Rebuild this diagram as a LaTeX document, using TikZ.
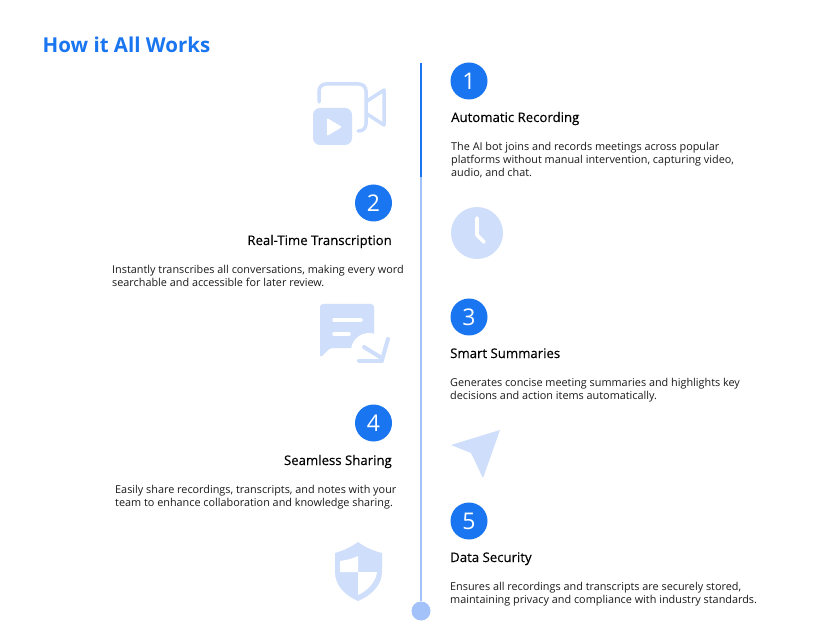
\documentclass[tikz,border=0pt]{standalone}
\usepackage{fontspec}
\setmainfont{Open Sans}
\newfontfamily\headfont[FakeBold=0.25]{Open Sans}
\definecolor{brand}{HTML}{1A75F0}
\definecolor{lineblue}{HTML}{A3C2FA}
\definecolor{iconblue}{HTML}{CFDEFA}
\definecolor{ink}{HTML}{1A1A1A}
\tikzset{
 numdot/.style={circle,fill=brand,draw=none,minimum size=37pt,inner sep=0pt,text=white,font=\fontsize{23}{23}\selectfont},
 headtxt/.style={inner sep=0pt,text=black,font=\headfont\fontsize{13.2}{15}\selectfont},
 bodytxt/.style={inner sep=0pt,text=ink,align=left,font=\fontsize{10.85}{13}\selectfont},
 ic/.style={fill=iconblue,draw=none},
 icl/.style={draw=iconblue,line width=3.5pt,line cap=round,line join=round},
 wl/.style={draw=white,line width=3.5pt,line cap=round},
}
\begin{document}
\begin{tikzpicture}[x=1pt,y=-1pt]
\useasboundingbox (0,0) rectangle (828,639);
\fill[white] (0,0) rectangle (828,639);
\node[anchor=base west,inner sep=0pt,text=brand,font=\fontsize{20.5}{24}\selectfont\bfseries] (title) at (42.5,53) {How it All Works};
% timeline
\coordinate (ltop) at (421,63);
\coordinate (lmid) at (421,177);
\node[circle,fill=lineblue,minimum size=19pt,inner sep=0pt] (lend) at (421,611) {};
\draw[lineblue,line width=2.8pt] (lmid) -- (lend);
\draw[brand,line width=2.8pt] (ltop) -- (lmid);
% number dots
\node[numdot] (n1) at (469,81) {1};
\node[numdot] (n2) at (373.5,203) {2};
\node[numdot] (n3) at (469,317) {3};
\node[numdot] (n4) at (373.5,423) {4};
\node[numdot] (n5) at (469,521) {5};
% texts
\node[headtxt,anchor=base west] (h1) at (451,122) {Automatic Recording};
\node[bodytxt,anchor=north west] (b1) at (451,142.2) {The AI bot joins and records meetings across popular\\platforms without manual intervention, capturing video,\\audio, and chat.};
\node[headtxt,anchor=base east] (h2) at (392,245) {Real-Time Transcription};
\node[bodytxt,anchor=north west] (b2) at (112,265.2) {Instantly transcribes all conversations, making every word\\searchable and accessible for later review.};
\node[headtxt,anchor=base west] (h3) at (450,358) {Smart Summaries};
\node[bodytxt,anchor=north west] (b3) at (450,378.2) {Generates concise meeting summaries and highlights key\\decisions and action items automatically.};
\node[headtxt,anchor=base east] (h4) at (392,465) {Seamless Sharing};
\node[bodytxt,anchor=north west] (b4) at (115,485.2) {Easily share recordings, transcripts, and notes with your\\team to enhance collaboration and knowledge sharing.};
\node[headtxt,anchor=base west] (h5) at (450,562) {Data Security};
\node[bodytxt,anchor=north west] (b5) at (450,582.2) {Ensures all recordings and transcripts are securely stored,\\maintaining privacy and compliance with industry standards.};
% video icon
\draw[icl,rounded corners=7pt] (319,102) -- (319,84) -- (366,84) -- (366,131) -- (358,131);
\draw[icl] (367,101) -- (384,90) -- (384,125) -- (367,114);
\fill[ic,rounded corners=7pt] (313,108) rectangle (352,145);
\fill[white,rounded corners=1pt] (327,118) -- (342,127) -- (327,136) -- cycle;
% clock icon
\fill[ic] (477,233) circle[radius=26];
\draw[white,line width=3.6pt,line cap=round,line join=round] (477,218) -- (477,235) -- (484,242);
% chat icon
\fill[ic,rounded corners=3pt] (320,304) -- (374,304) -- (374,348) -- (330,348) -- (320,358) -- cycle;
\fill[white] (369,351) circle[radius=18];
\draw[wl] (334,320) -- (361,320);
\draw[wl] (334,334) -- (349,334);
\draw[icl,line width=4pt] (359,360.5) -- (382,360.5);
\draw[icl,line width=4pt] (364,347) -- (380,357);
\draw[icl,line width=4pt] (382,360) -- (388,339);
% plane icon
\fill[ic] (500,430) -- (451,445) -- (471,453) -- (483,478) -- cycle;
% shield icon
\fill[ic] (358,542) .. controls (350,548) and (342,551) .. (335,553) -- (335,572) .. controls (335,586) and (346,596) .. (358,601) .. controls (370,596) and (382,586) .. (382,572) -- (382,553) .. controls (374,551) and (366,548) .. (358,542) -- cycle;
\fill[white] (358,556) -- (358,572) -- (340,572) -- (340,561) .. controls (346,560) and (352,559) .. (358,556) -- cycle;
\fill[white] (358,572) -- (377,572) .. controls (376,582) and (367,591) .. (358,595) -- cycle;
\end{tikzpicture}
\end{document}
